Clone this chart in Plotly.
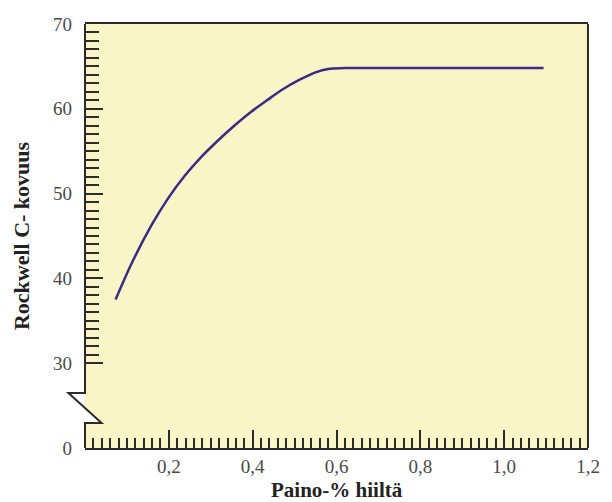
import plotly.graph_objects as go

# Hardness of quenched steel vs carbon content
carbon_pct = [0.073, 0.1125, 0.159, 0.199, 0.238, 0.277, 0.316, 0.356,
              0.395, 0.434, 0.472, 0.511, 0.55, 0.58, 0.62, 0.8, 1.0, 1.094]
hardness_hrc = [37.5, 41.9, 46.3, 49.5, 52.1, 54.3, 56.2, 58.0,
                59.6, 61.0, 62.3, 63.4, 64.3, 64.7, 64.8, 64.8, 64.8, 64.8]

# Y axis is broken: the "0" label sits one decade below 30
y_tickvals = [20, 30, 40, 50, 60, 70]
y_ticktext = ["0", "30", "40", "50", "60", "70"]
y_minor_vals = [v for v in range(31, 70) if v % 10 != 0]
x_tickvals = [0.2, 0.4, 0.6, 0.8, 1.0, 1.2]

BG = "#f9f5c7"
AX = "#2b2b2b"
LINE = "#3c2a85"
SERIF = "Liberation Serif, Times New Roman, serif"

fig = go.Figure()
fig.add_trace(go.Scatter(
    x=carbon_pct, y=hardness_hrc, mode="lines",
    line=dict(color=LINE, width=2.5, shape="spline", smoothing=1.0),
    hoverinfo="skip", showlegend=False,
))

fig.update_layout(
    width=612, height=502,
    margin=dict(l=85, r=15, t=24, b=54),
    paper_bgcolor="white", plot_bgcolor=BG,
    separators=", ",
    font=dict(family=SERIF, size=19, color="#4a4a4a"),
    xaxis=dict(
        range=[0, 1.2], tickvals=x_tickvals, tickformat=".1f",
        ticks="inside", ticklen=18, tickwidth=2, tickcolor=AX,
        minor=dict(dtick=0.02, tick0=0, ticks="inside", ticklen=10,
                   tickwidth=1.5, tickcolor=AX),
        showline=True, mirror=True, linecolor=AX, linewidth=2,
        showgrid=False, zeroline=False, fixedrange=True,
        ticklabelstandoff=0,
    ),
    yaxis=dict(
        range=[20, 70], tickvals=y_tickvals, ticktext=y_ticktext,
        ticks="inside", ticklen=18, tickwidth=2, tickcolor=AX,
        minor=dict(tickmode="array", tickvals=y_minor_vals, ticks="inside",
                   ticklen=14, tickwidth=2, tickcolor=AX),
        showline=False, showgrid=False, zeroline=False, fixedrange=True,
        ticklabelstandoff=12,
    ),
    annotations=[
        dict(text="<b>Rockwell C- kovuus</b>", textangle=-90,
             xref="paper", yref="paper", x=-0.127, y=0.5,
             xanchor="center", yanchor="middle", showarrow=False,
             font=dict(family=SERIF, size=22, color="#222222")),
        dict(text="<b>Paino-% hiiltä</b>",
             xref="paper", yref="paper", x=0.5, y=-0.067,
             xanchor="center", yanchor="top", showarrow=False,
             font=dict(family=SERIF, size=21, color="#222222")),
    ],
)

# Frame: left axis with a zigzag break below 30, plus the right border
brk_hi, brk_lo, dx = 26.5, 22.95, 0.033
frame = dict(color=AX, width=2)
fig.add_shape(type="path", xref="paper", yref="y", layer="above",
              path=f"M 0,{brk_hi} L {-dx},{brk_hi} L {dx},{brk_lo} L 0,{brk_lo} Z",
              fillcolor="white", line=dict(width=0))
fig.add_shape(type="path", xref="paper", yref="y", layer="above",
              path=f"M 0,70 L 0,{brk_hi} L {-dx},{brk_hi} L {dx},{brk_lo} "
                   f"L 0,{brk_lo} L 0,20",
              line=frame)
fig.add_shape(type="line", xref="paper", yref="y", layer="above",
              x0=1, x1=1, y0=20, y1=70, line=frame)

fig.write_html("out.html")
